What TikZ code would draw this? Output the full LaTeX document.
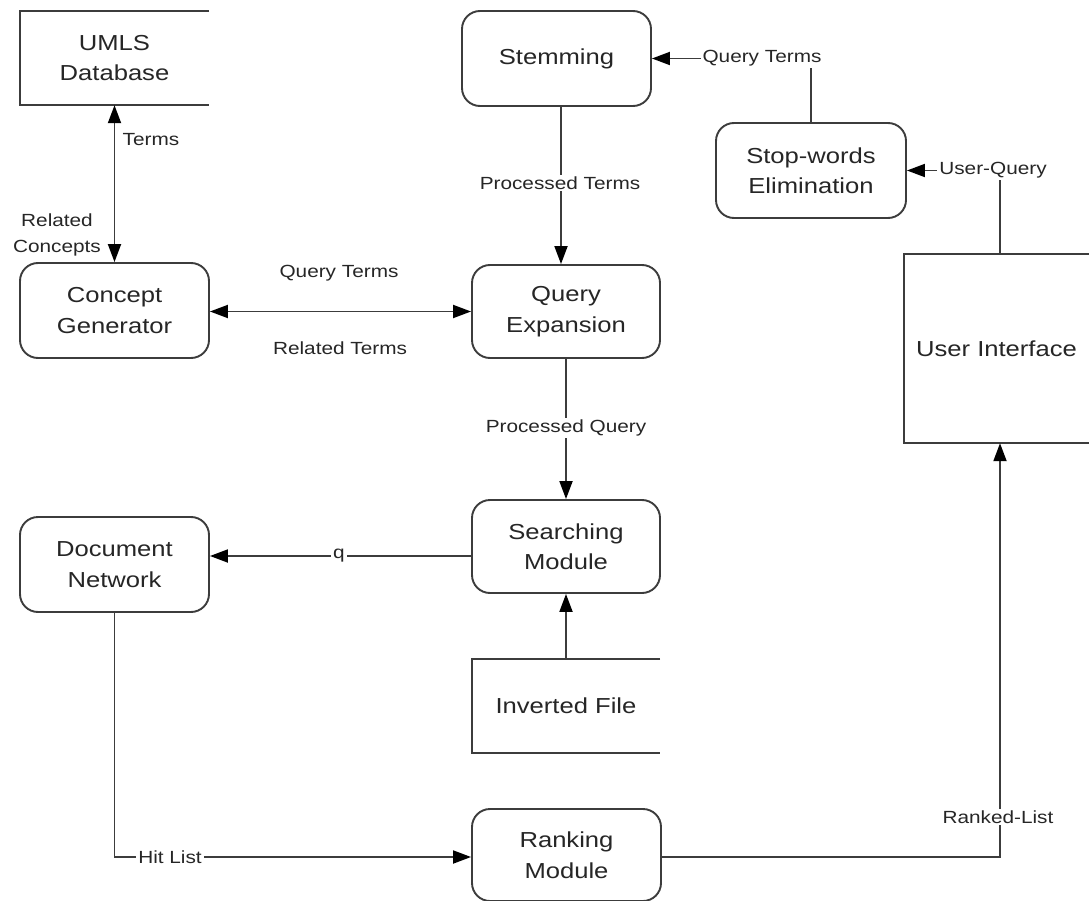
\documentclass[tikz,border=0pt]{standalone}
\usepackage{fontspec}
\setmainfont{Liberation Sans}[FakeStretch=1.18]
\usetikzlibrary{arrows.meta}
\definecolor{linegray}{HTML}{3C3C3C}
\definecolor{textgray}{HTML}{262626}
\newcommand\mainfs{\fontsize{21.7}{30.5}\selectfont}
\newcommand\lblfs{\fontsize{17.6}{26}\selectfont}
\begin{document}
\begin{tikzpicture}[x=1pt,y=-1pt,
  proc/.style={draw=linegray, line width=1.9pt, rounded corners=18pt,
    minimum width=189pt, minimum height=95pt, inner sep=0pt,
    align=center, font=\mainfs, text=textgray},
  store/.style={minimum width=189pt, minimum height=95pt, inner sep=0pt,
    align=center, font=\mainfs, text=textgray},
  conn/.style={draw=linegray, line width=1.9pt},
  tip/.style={Triangle[length=18pt,width=13pt,color=black]},
  arr/.style={conn, -{Triangle[length=18pt,width=13pt,color=black]}},
  barr/.style={conn, {Triangle[length=18pt,width=13pt,color=black]}-{Triangle[length=18pt,width=13pt,color=black]}},
  lbl/.style={fill=white, inner sep=2pt, font=\lblfs, text=textgray, align=center},
]
\useasboundingbox[fill=white] (0,0) rectangle (1089,901);

% data stores (open on the right) and process boxes
\node[store, minimum height=94pt] (umls) at (114.5,58) {UMLS\\Database};
\draw[conn] (umls.north east) -- (umls.north west) -- (umls.south west) -- (umls.south east);

\node[proc] (stem) at (556.5,58.5) {Stemming};
\node[proc, minimum width=190pt] (stop) at (811,170.5) {Stop-words\\Elimination};
\node[proc] (cg) at (114.5,310.5) {Concept\\Generator};
\node[proc, minimum width=188pt, minimum height=93pt] (qe) at (566,311.5) {Query\\Expansion};

\node[store, minimum width=185pt, minimum height=189pt] (ui) at (996.5,348.5) {User Interface};
\draw[conn] (ui.north east) -- (ui.north west) -- (ui.south west) -- (ui.south east);

\node[proc, minimum width=188pt, minimum height=93pt] (sm) at (566,546.5) {Searching\\Module};
\node[proc] (dn) at (114.5,564.5) {Document\\Network};

\node[store, minimum width=188pt, minimum height=94pt] (inv) at (566,706) {Inverted File};
\draw[conn] (inv.north east) -- (inv.north west) -- (inv.south west) -- (inv.south east);

\node[proc, minimum height=92pt] (rm) at (566.5,855) {Ranking\\Module};

% connectors
\draw[barr] (umls.south) -- (cg.north);
\draw[barr] (cg.east |- qe.west) -- (qe.west);
\draw[arr] ([xshift=4.5pt]stem.south) -- ([xshift=4.5pt]stem.south |- qe.north);
\draw[arr] (qe.south) -- (sm.north);
\draw[arr] ([yshift=-9.5pt]sm.west) -- ([yshift=-9.5pt]sm.west -| dn.east);
\draw[arr] (inv.north) -- (sm.south);
\draw[arr] (dn.south) |- ([yshift=-2pt]rm.west);
\draw[arr] ([yshift=-2pt]rm.east) -| ([xshift=3.5pt]ui.south);
\draw[arr] ([xshift=3.5pt]ui.north) |- (stop.east);
\draw[arr] (stop.north) |- (stem.east);

% connector labels
\node[lbl] (lterms) at (151,140) {Terms};
\node[lbl] (lrelc) at (57,235) {Related\\Concepts};
\node[lbl] (lqt) at (339,273) {Query Terms};
\node[lbl] (lrt) at (340,348) {Related Terms};
\node[lbl] (lpt) at (560,183) {Processed Terms};
\node[lbl] (lpq) at (566,428) {Processed Query};
\node[lbl] (lq) at (339,556) {q};
\node[lbl] (lhit) at (170,857) {Hit List};
\node[lbl] (lrank) at (998,817) {Ranked-List};
\node[lbl] (luq) at (993,170) {User-Query};
\node[lbl] (lqt2) at (762,58) {Query Terms};
\end{tikzpicture}
\end{document}
